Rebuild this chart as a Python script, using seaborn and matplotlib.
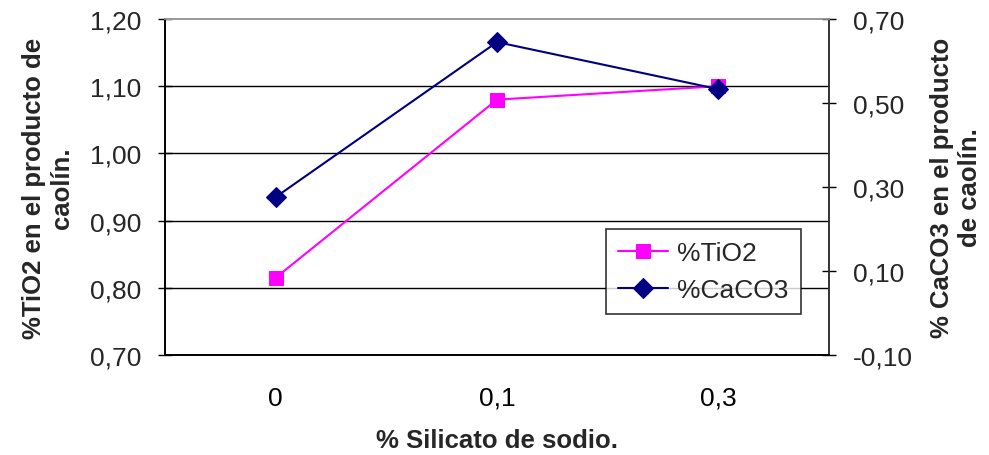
import matplotlib
matplotlib.use("Agg")
import matplotlib.pyplot as plt
import seaborn as sns
import pandas as pd
from matplotlib.ticker import FixedLocator, FuncFormatter

categories = ["0", "0,1", "0,3"]
tio2 = [0.815, 1.08, 1.10]
caco3 = [0.276, 0.645, 0.533]
left_ticks = [0.70, 0.80, 0.90, 1.00, 1.10, 1.20]
right_ticks = [-0.10, 0.10, 0.30, 0.50, 0.70]

sns.set_theme(style="white")
plt.rcParams['font.family'] = ['Liberation Sans', 'DejaVu Sans']

df = pd.DataFrame({"pos": list(range(len(categories))), "cat": categories,
                   "tio2": tio2, "caco3": caco3})

fig = plt.figure(figsize=(9.89, 4.56), dpi=100)
ax = fig.add_axes([165/989, 1-356/456, (829-165)/989, (356-20)/456])
ax2 = ax.twinx()

sns.lineplot(data=df, x="pos", y="tio2", ax=ax, color="#FF00FF", marker="s",
             markersize=10, markeredgecolor="#FF00FF", linewidth=1.5, label="%TiO2", legend=False)
sns.lineplot(data=df, x="pos", y="caco3", ax=ax2, color="#000080", marker="D",
             markersize=10, markeredgecolor="#000080", linewidth=1.5, label="%CaCO3", legend=False)

ax.set_xlim(-0.5, len(categories) - 0.5)
ax.set_ylim(0.70, 1.20)
ax2.set_ylim(-0.10, 0.70)

fmt = FuncFormatter(lambda v, p: f"{v:.2f}".replace(".", ","))
ax.yaxis.set_major_locator(FixedLocator(left_ticks))
ax.yaxis.set_major_formatter(fmt)
ax2.yaxis.set_major_locator(FixedLocator(right_ticks))
ax2.yaxis.set_major_formatter(fmt)

ax.set_xticks(df["pos"])
ax.set_xticklabels(categories)
ax.xaxis.set_minor_locator(FixedLocator([-0.5, 0.5, 1.5, 2.5]))
ax.tick_params(axis="x", which="major", length=0, labelsize=19, pad=22, colors="black")
ax.tick_params(axis="x", which="minor", direction="inout", length=12, width=1, color="black")
ax.tick_params(axis="y", direction="inout", length=10, width=1, labelsize=19, pad=12,
               color="black", left=True)
ax2.tick_params(axis="y", direction="inout", length=10, width=1, labelsize=19, pad=12,
                color="black", right=True)

ax.grid(False)
ax2.grid(False)
for t in left_ticks[1:-1]:
    ax.axhline(t, color="black", linewidth=1, zorder=0)

for a in (ax, ax2):
    a.spines["left"].set_color("black")
    a.spines["right"].set_color("#333333")
    a.spines["bottom"].set_color("black")
    a.spines["top"].set_color("#999999")
    for s in a.spines.values():
        s.set_linewidth(1.2)

ax.set_xlabel("% Silicato de sodio.", fontsize=18.5, fontweight="bold")
ax.set_ylabel("%TiO2 en el producto de\ncaolín.", fontsize=18.5, fontweight="bold")
ax2.set_ylabel("% CaCO3 en el producto\nde caolín.", fontsize=18.5, fontweight="bold",
               rotation=90)
ax2.yaxis.set_label_position("right")
ax.xaxis.label.set_va("center")
ax.yaxis.label.set_va("center")
ax2.yaxis.label.set_va("center")
ax.xaxis.set_label_coords(0.5, (356-441)/336)
ax.yaxis.set_label_coords((48-165)/664, 0.5)
ax2.yaxis.set_label_coords((956-165)/664, 0.5)

h1, l1 = ax.get_legend_handles_labels()
h2, l2 = ax2.get_legend_handles_labels()
leg = ax2.legend(h1 + h2, l1 + l2, loc="upper left",
                 bbox_to_anchor=((606-165)/664, (356-230)/336),
                 fontsize=19, frameon=True, fancybox=False, edgecolor="black",
                 borderpad=0.45, borderaxespad=0, handlelength=1.9, handletextpad=0.35,
                 labelspacing=0.5)
leg.get_frame().set_linewidth(1.2)

fig.savefig("out.png", dpi=100, facecolor="white")
